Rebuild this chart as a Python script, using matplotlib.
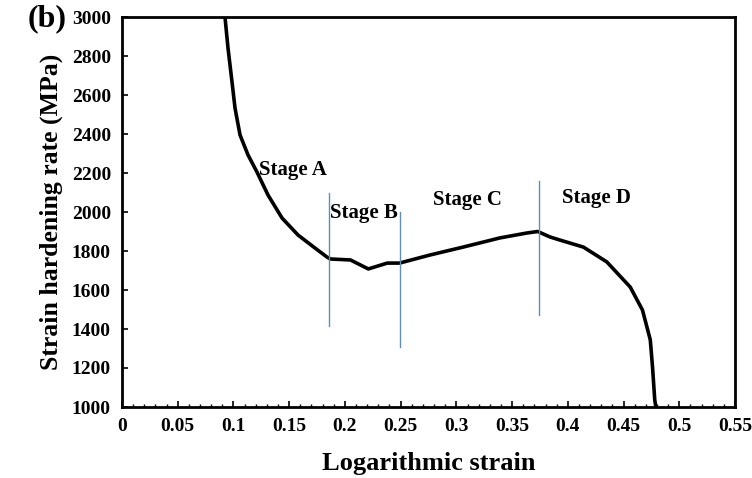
import matplotlib
matplotlib.use("Agg")
import matplotlib.pyplot as plt
from matplotlib.ticker import MultipleLocator

strain = [0.0924, 0.0951, 0.0987, 0.1014, 0.1059, 0.1131, 0.1211, 0.1310, 0.1436,
          0.1579, 0.1732, 0.1839, 0.187, 0.205, 0.221, 0.238, 0.249, 0.276, 0.306,
          0.339, 0.363, 0.373, 0.384, 0.393, 0.414, 0.435, 0.456, 0.467, 0.474,
          0.476, 0.478, 0.479]
rate = [3000, 2841, 2667, 2533, 2395, 2292, 2205, 2087, 1969,
        1882, 1815, 1769, 1759, 1754, 1708, 1738, 1738, 1779, 1820,
        1867, 1892, 1900, 1872, 1856, 1820, 1744, 1615, 1497, 1344,
        1205, 1036, 1000]

stage_x = [0.1857, 0.2494, 0.374]
stage_ymin = [1415, 1310, 1470]
stage_ymax = [2100, 2000, 2160]

stage_labels = ["Stage A", "Stage B", "Stage C", "Stage D"]
stage_lx = [0.153, 0.217, 0.310, 0.426]
stage_ly = [2215, 1995, 2060, 2070]

xticks = [0, 0.05, 0.1, 0.15, 0.2, 0.25, 0.3, 0.35, 0.4, 0.45, 0.5, 0.55]
xticklabels = ["0", "0.05", "0.1", "0.15", "0.2", "0.25", "0.3", "0.35", "0.4", "0.45", "0.5", "0.55"]
yticks = [1000, 1200, 1400, 1600, 1800, 2000, 2200, 2400, 2600, 2800, 3000]

plt.rcParams['font.family'] = ['Liberation Serif', 'DejaVu Serif']
plt.rcParams['font.weight'] = 'bold'

fig = plt.figure(figsize=(7.52, 4.78), dpi=100)
ax = fig.add_axes([122/752, 1 - 407/478, 613/752, 390/478])

ax.plot(strain, rate, color='black', lw=2.6, solid_joinstyle='round')
for xv, y0, y1 in zip(stage_x, stage_ymin, stage_ymax):
    ax.plot([xv, xv], [y0, y1], color='#5f8fb4', lw=1.0)
for t, lx, ly in zip(stage_labels, stage_lx, stage_ly):
    ax.text(lx, ly, t, ha='center', va='center', fontsize=15, fontweight='bold')

ax.set_xlim(0, 0.55)
ax.set_ylim(1000, 3000)
ax.set_xticks(xticks)
ax.set_xticklabels(xticklabels)
ax.set_yticks(yticks)
ax.xaxis.set_minor_locator(MultipleLocator(0.01))
ax.tick_params(axis='both', which='major', direction='in', length=4, width=1.2, labelsize=14)
ax.tick_params(axis='x', which='minor', direction='in', length=2, width=1.0)
ax.tick_params(axis='x', pad=8)
ax.tick_params(axis='y', pad=8)
for lbl in ax.get_xticklabels() + ax.get_yticklabels():
    lbl.set_fontweight('bold')
for s in ax.spines.values():
    s.set_linewidth(2.0)

ax.set_xlabel("Logarithmic strain", fontsize=19, fontweight='bold', labelpad=12)
ax.set_ylabel("Strain hardening rate (MPa)", fontsize=18.5, fontweight='bold', labelpad=6)
fig.text(28/752, 1 - 19/478, "(b)", fontsize=23, fontweight='bold', va='center', ha='left')

fig.savefig("out.png", dpi=100)
